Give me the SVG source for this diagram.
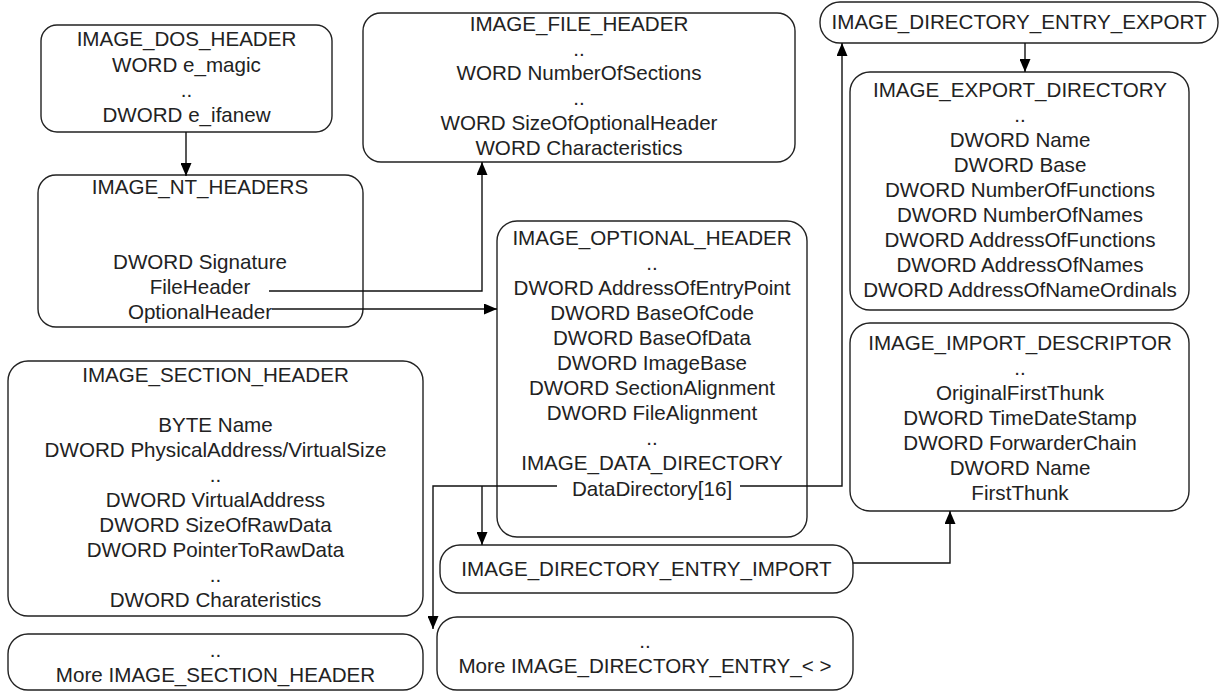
<svg xmlns="http://www.w3.org/2000/svg" width="1221" height="691" viewBox="0 0 1221 691">
<style>
.box{fill:#fff;stroke:#222;stroke-width:1.4}
.t{font-family:"Liberation Sans",Arial,sans-serif;font-size:20.6px;fill:#222;text-anchor:middle}
.c{fill:none;stroke:#111;stroke-width:1.4}
</style>
<defs>
<marker id="ah" viewBox="0 0 13 11" refX="13" refY="5.5" markerWidth="13" markerHeight="11" orient="auto" markerUnits="userSpaceOnUse"><path d="M0,0 L13,5.5 L0,11 z" fill="#000"/></marker>
</defs>
<rect width="1221" height="691" fill="#fff"/>

<g id="dos_header">
<rect class="box" x="41" y="25" width="291" height="107" rx="16"/>
<text class="t" x="186.5" y="46">IMAGE_DOS_HEADER</text>
<text class="t" x="186.5" y="72">WORD e_magic</text>
<text class="t" x="186.5" y="97">..</text>
<text class="t" x="186.5" y="122">DWORD e_ifanew</text>
</g>

<g id="nt_headers">
<rect class="box" x="38" y="175" width="325" height="152" rx="18"/>
<text class="t" x="200" y="194">IMAGE_NT_HEADERS</text>
<text class="t" x="200" y="269">DWORD Signature</text>
<text class="t" x="200" y="294">FileHeader</text>
<text class="t" x="200" y="319">OptionalHeader</text>
</g>

<g id="file_header">
<rect class="box" x="363" y="13" width="432" height="149" rx="18"/>
<text class="t" x="579" y="31">IMAGE_FILE_HEADER</text>
<text class="t" x="579" y="56">..</text>
<text class="t" x="579" y="80">WORD NumberOfSections</text>
<text class="t" x="579" y="105">..</text>
<text class="t" x="579" y="130">WORD SizeOfOptionalHeader</text>
<text class="t" x="579" y="155">WORD Characteristics</text>
</g>

<g id="optional_header">
<rect class="box" x="497" y="221" width="310" height="316" rx="20"/>
<text class="t" x="652" y="245">IMAGE_OPTIONAL_HEADER</text>
<text class="t" x="652" y="270">..</text>
<text class="t" x="652" y="295">DWORD AddressOfEntryPoint</text>
<text class="t" x="652" y="320">DWORD BaseOfCode</text>
<text class="t" x="652" y="345">DWORD BaseOfData</text>
<text class="t" x="652" y="370">DWORD ImageBase</text>
<text class="t" x="652" y="395">DWORD SectionAlignment</text>
<text class="t" x="652" y="420">DWORD FileAlignment</text>
<text class="t" x="652" y="445">..</text>
<text class="t" x="652" y="470">IMAGE_DATA_DIRECTORY</text>
<text class="t" x="652" y="496">DataDirectory[16]</text>
</g>

<g id="entry_export">
<rect class="box" x="820" y="2" width="398" height="41" rx="20"/>
<text class="t" x="1019" y="29">IMAGE_DIRECTORY_ENTRY_EXPORT</text>
</g>

<g id="export_directory">
<rect class="box" x="850" y="72" width="339" height="238" rx="20"/>
<text class="t" x="1020" y="97">IMAGE_EXPORT_DIRECTORY</text>
<text class="t" x="1020" y="122">..</text>
<text class="t" x="1020" y="147">DWORD Name</text>
<text class="t" x="1020" y="172">DWORD Base</text>
<text class="t" x="1020" y="197">DWORD NumberOfFunctions</text>
<text class="t" x="1020" y="222">DWORD NumberOfNames</text>
<text class="t" x="1020" y="247">DWORD AddressOfFunctions</text>
<text class="t" x="1020" y="272">DWORD AddressOfNames</text>
<text class="t" x="1020" y="297">DWORD AddressOfNameOrdinals</text>
</g>

<g id="import_descriptor">
<rect class="box" x="850" y="323" width="339" height="188" rx="20"/>
<text class="t" x="1020" y="350">IMAGE_IMPORT_DESCRIPTOR</text>
<text class="t" x="1020" y="375">..</text>
<text class="t" x="1020" y="400">OriginalFirstThunk</text>
<text class="t" x="1020" y="425">DWORD TimeDateStamp</text>
<text class="t" x="1020" y="450">DWORD ForwarderChain</text>
<text class="t" x="1020" y="475">DWORD Name</text>
<text class="t" x="1020" y="500">FirstThunk</text>
</g>

<g id="section_header">
<rect class="box" x="8" y="361" width="415" height="255" rx="20"/>
<text class="t" x="215.5" y="382">IMAGE_SECTION_HEADER</text>
<text class="t" x="215.5" y="432">BYTE Name</text>
<text class="t" x="215.5" y="457">DWORD PhysicalAddress/VirtualSize</text>
<text class="t" x="215.5" y="482">..</text>
<text class="t" x="215.5" y="507">DWORD VirtualAddress</text>
<text class="t" x="215.5" y="532">DWORD SizeOfRawData</text>
<text class="t" x="215.5" y="557">DWORD PointerToRawData</text>
<text class="t" x="215.5" y="582">..</text>
<text class="t" x="215.5" y="607">DWORD Charateristics</text>
</g>

<g id="more_section_header">
<rect class="box" x="8" y="634" width="415" height="56" rx="20"/>
<text class="t" x="215.5" y="657">..</text>
<text class="t" x="215.5" y="682">More IMAGE_SECTION_HEADER</text>
</g>

<g id="entry_import">
<rect class="box" x="440" y="545" width="413" height="48" rx="20"/>
<text class="t" x="646.5" y="576">IMAGE_DIRECTORY_ENTRY_IMPORT</text>
</g>

<g id="more_entries">
<rect class="box" x="437" y="617" width="416" height="73" rx="20"/>
<text class="t" x="645" y="648">..</text>
<text class="t" x="645" y="673">More IMAGE_DIRECTORY_ENTRY_&lt; &gt;</text>
</g>

<g id="connectors">
<path class="c" d="M186,132 V176" marker-end="url(#ah)"/>
<path class="c" d="M269,291 H482 V162" marker-end="url(#ah)"/>
<path class="c" d="M272,309 H497" marker-end="url(#ah)"/>
<path class="c" d="M740,486 H842 V43" marker-end="url(#ah)"/>
<path class="c" d="M1025,43 V72" marker-end="url(#ah)"/>
<path class="c" d="M557,486 H433 V629" marker-end="url(#ah)"/>
<path class="c" d="M482,486 V545" marker-end="url(#ah)"/>
<path class="c" d="M853,563 H950 V511" marker-end="url(#ah)"/>
</g>
</svg>
